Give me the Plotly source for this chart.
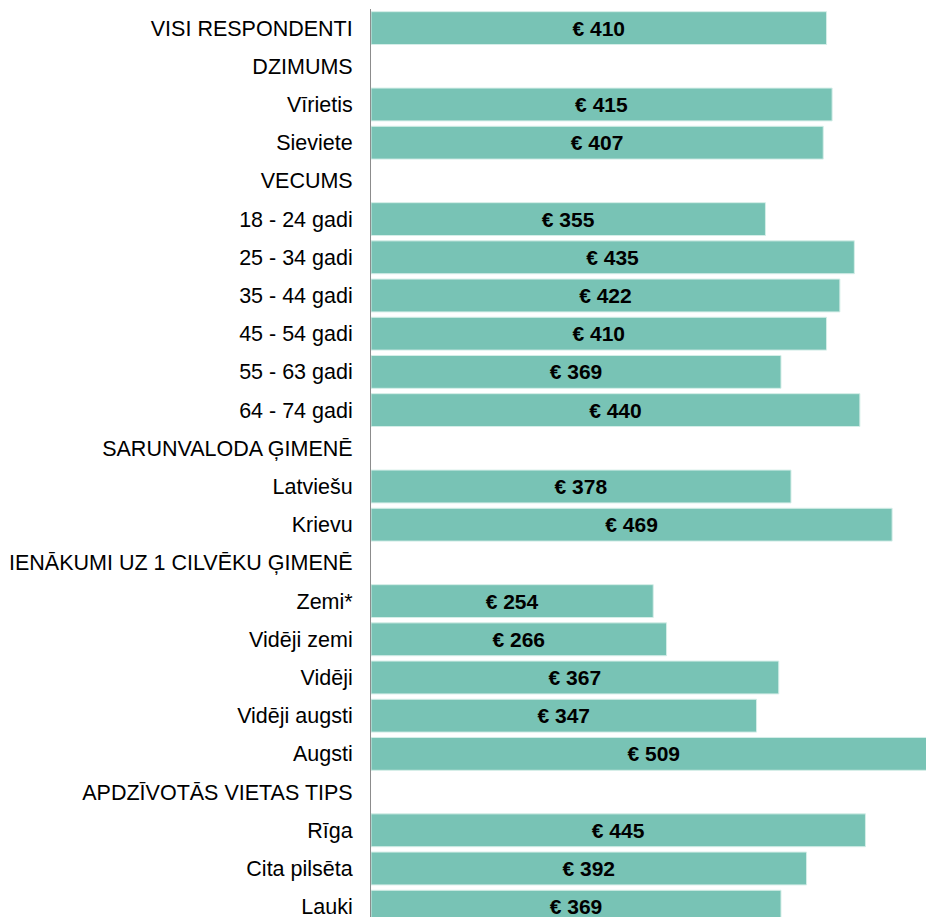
import plotly.graph_objects as go

# Row labels (group headings have no value)
categories = [
    "VISI RESPONDENTI", "DZIMUMS", "Vīrietis", "Sieviete", "VECUMS",
    "18 - 24 gadi", "25 - 34 gadi", "35 - 44 gadi", "45 - 54 gadi",
    "55 - 63 gadi", "64 - 74 gadi", "SARUNVALODA ĢIMENĒ", "Latviešu",
    "Krievu", "IENĀKUMI UZ 1 CILVĒKU ĢIMENĒ", "Zemi*", "Vidēji zemi",
    "Vidēji", "Vidēji augsti", "Augsti", "APDZĪVOTĀS VIETAS TIPS",
    "Rīga", "Cita pilsēta", "Lauki",
]
values = [
    410, None, 415, 407, None,
    355, 435, 422, 410,
    369, 440, None, 378,
    469, None, 254, 266,
    367, 347, 509, None,
    445, 392, 369,
]

labels = ["" if v is None else f"€ {v}" for v in values]

FONT = "Liberation Sans, Arial, sans-serif"

fig = go.Figure(
    go.Bar(
        x=values,
        y=categories,
        orientation="h",
        text=labels,
        textposition="inside",
        insidetextanchor="middle",
        constraintext="none",
        textfont=dict(family=FONT, size=21, color="black", weight="bold"),
        marker=dict(color="#78c3b5", line=dict(color="#d5eee8", width=1)),
        hoverinfo="skip",
    )
)

fig.update_layout(
    width=926,
    height=917,
    margin=dict(l=371, r=0, t=9, b=0, autoexpand=False),
    paper_bgcolor="white",
    plot_bgcolor="white",
    bargap=0.14,
    showlegend=False,
    font=dict(family=FONT, size=21.5, color="black"),
)

fig.update_xaxes(
    range=[0, 499.5],
    visible=False,
    showgrid=False,
    zeroline=False,
)

fig.update_yaxes(
    type="category",
    categoryorder="array",
    categoryarray=categories,
    range=[23.27, -0.5],
    showgrid=False,
    zeroline=False,
    showline=True,
    linecolor="#8c8c8c",
    linewidth=1,
    ticks="",
    ticklabelstandoff=13,
    tickfont=dict(family=FONT, size=21.5, color="black"),
    automargin=False,
)

fig.write_html("out.html")
